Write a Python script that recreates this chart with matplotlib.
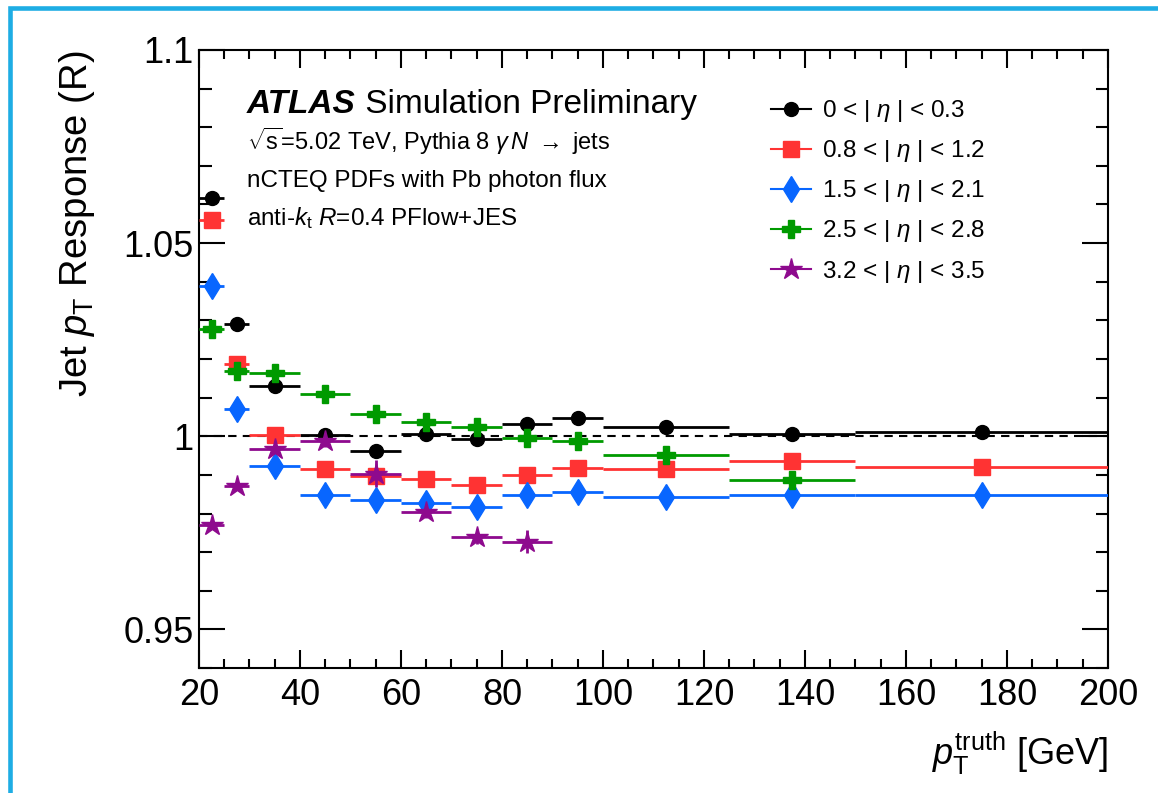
import numpy as np
import matplotlib
matplotlib.use("Agg")
from matplotlib import pyplot as plt
from matplotlib.lines import Line2D
from matplotlib.patches import Rectangle
from matplotlib.ticker import MultipleLocator

plt.rcParams['font.family'] = ['Liberation Sans', 'DejaVu Sans']
plt.rcParams['mathtext.fontset'] = 'custom'
plt.rcParams['mathtext.rm'] = 'Liberation Sans'
plt.rcParams['mathtext.it'] = 'Liberation Sans:italic'
plt.rcParams['mathtext.bf'] = 'Liberation Sans:bold'

# pT bins (centres and half widths)
pt_centers = [22.5, 27.5, 35, 45, 55, 65, 75, 85, 95, 112.5, 137.5, 175]
pt_halfw = [2.5, 2.5, 5, 5, 5, 5, 5, 5, 5, 12.5, 12.5, 25]

# response per eta slice
resp_eta0 = [1.0616, 1.0290, 1.0131, 1.0003, 0.9961, 1.0005, 0.9994, 1.0033, 1.0046, 1.0024, 1.0007, 1.0010]
resp_eta1 = [1.0561, 1.0187, 1.0003, 0.9914, 0.9896, 0.9890, 0.9873, 0.9899, 0.9918, 0.9916, 0.9935, 0.9920]
resp_eta2 = [1.0390, 1.0070, 0.9922, 0.9849, 0.9836, 0.9827, 0.9816, 0.9847, 0.9856, 0.9842, 0.9849, 0.9847]
resp_eta3 = [1.0277, 1.0169, 1.0163, 1.0109, 1.0057, 1.0036, 1.0024, 0.9996, 0.9987, 0.9951, 0.9886]
resp_eta4 = [0.9769, 0.9870, 0.9968, 0.9987, 0.9903, 0.9803, 0.9740, 0.9727]

err_eta0 = [0.0004, 0.0003, 0.0003, 0.0003, 0.0004, 0.0004, 0.0004, 0.0004, 0.0004, 0.0004, 0.0004, 0.0005]
err_eta1 = [0.0004, 0.0003, 0.0003, 0.0003, 0.0004, 0.0004, 0.0004, 0.0004, 0.0004, 0.0004, 0.0004, 0.0005]
err_eta2 = [0.0005, 0.0004, 0.0004, 0.0004, 0.0005, 0.0005, 0.0005, 0.0005, 0.0005, 0.0005, 0.0005, 0.0006]
err_eta3 = [0.0006, 0.0005, 0.0005, 0.0005, 0.0006, 0.0006, 0.0006, 0.0006, 0.0007, 0.0007, 0.0008]
err_eta4 = [0.0008, 0.0010, 0.0012, 0.0015, 0.0035, 0.0015, 0.0018, 0.0030]

labels = [r'0 < | $\eta$ | < 0.3', r'0.8 < | $\eta$ | < 1.2', r'1.5 < | $\eta$ | < 2.1',
          r'2.5 < | $\eta$ | < 2.8', r'3.2 < | $\eta$ | < 3.5']
colors = ['black', '#FF3333', '#0866FF', '#009A00', '#8E0A8E']
markers = ['o', 's', 'd', 'P', '*']
msizes = [10, 11, 13, 13, 16]

series = [resp_eta0, resp_eta1, resp_eta2, resp_eta3, resp_eta4]
errors = [err_eta0, err_eta1, err_eta2, err_eta3, err_eta4]

fig = plt.figure(figsize=(11.58, 7.93), dpi=100)
ax = fig.add_axes([0.1718, 0.1576, 0.785, 0.7794])

ax.axhline(1.0, color='black', ls=(0, (4, 3)), lw=1.5, zorder=1)

handles = []
for k in range(5):
    n = len(series[k])
    ax.errorbar(pt_centers[:n], series[k], xerr=pt_halfw[:n], yerr=errors[k],
                fmt=markers[k], color=colors[k], ms=msizes[k], mec=colors[k],
                elinewidth=2, capsize=0, zorder=3 + k)
    handles.append(Line2D([], [], color=colors[k], marker=markers[k], ms=msizes[k],
                          lw=1.5))

ax.set_xlim(20, 200)
ax.set_ylim(0.94, 1.1)
ax.xaxis.set_major_locator(MultipleLocator(20))
ax.xaxis.set_minor_locator(MultipleLocator(5))
ax.yaxis.set_minor_locator(MultipleLocator(0.01))
ax.set_yticks([0.95, 1.0, 1.05, 1.1])
ax.set_yticklabels(['0.95', '1', '1.05', '1.1'])

ax.tick_params(which='both', direction='in', top=True, right=True, width=1.5,
               labelsize=26)
ax.tick_params(axis='x', which='major', length=13, pad=7)
ax.tick_params(axis='x', which='minor', length=6.5)
ax.tick_params(axis='y', which='major', length=19, pad=4)
ax.tick_params(axis='y', which='minor', length=9)
for s in ax.spines.values():
    s.set_linewidth(1.5)

ax.set_xlabel(r'$p_{\mathrm{T}}^{\mathrm{truth}}$ [GeV]', fontsize=26, loc='right', labelpad=12)
ax.set_ylabel(r'Jet $p_{\mathrm{T}}$ Response (R)', fontsize=27.5, loc='top', labelpad=19)

t = ax.text(0.0528, 0.898, 'ATLAS', transform=ax.transAxes, fontsize=24,
            fontweight='bold', fontstyle='italic', va='baseline')
ax.annotate(' Simulation Preliminary', xy=(1, 0), xycoords=t, fontsize=24,
            va='bottom', ha='left')
ax.text(0.0528, 0.838, r'$\sqrt{\mathrm{s}}$=5.02 TeV, Pythia 8 $\gamma\, N$ $\rightarrow$ jets',
        transform=ax.transAxes, fontsize=17, va='baseline')
ax.text(0.0528, 0.778, 'nCTEQ PDFs with Pb photon flux', transform=ax.transAxes,
        fontsize=17.5, va='baseline')
ax.text(0.0528, 0.716, r'anti-$k_{\mathrm{t}}$ $R$=0.4 PFlow+JES', transform=ax.transAxes,
        fontsize=17.5, va='baseline')

ax.legend(handles, labels, loc='upper left', bbox_to_anchor=(0.629, 0.922),
          frameon=False, fontsize=17.5, handlelength=1.65, handletextpad=0.45,
          labelspacing=0.58, borderaxespad=0, borderpad=0)

fig.add_artist(Rectangle((10 / 1158, -0.2), 2, 1.2 - 8 / 793, transform=fig.transFigure,
                         fill=False, ec='#1EADE4', lw=3.3, clip_on=False))

fig.savefig('out.png', dpi=100)
